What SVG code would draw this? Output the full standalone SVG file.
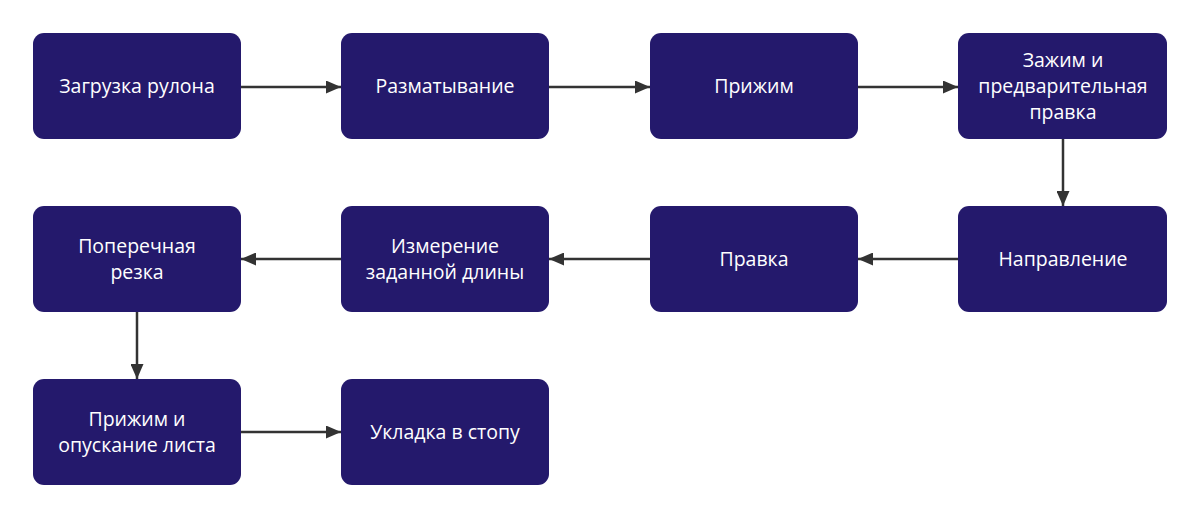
<svg xmlns="http://www.w3.org/2000/svg" width="1200" height="516" viewBox="0 0 1200 516">
<defs>
<style>
.n{fill:#24196c;}
.t{fill:#ffffff;font-family:"Open Sans","Noto Sans","DejaVu Sans",sans-serif;font-size:19.5px;text-anchor:middle;}
.c{stroke:#333333;stroke-width:2.5;fill:none;}
</style>
<marker id="ah" viewBox="0 0 15 13" refX="15" refY="6.5" markerWidth="15" markerHeight="13" markerUnits="userSpaceOnUse" orient="auto">
<path d="M0,0 L15,6.5 L0,13 Z" fill="#333333"/>
</marker>
</defs>
<rect width="1200" height="516" fill="#ffffff"/>
<g id="connectors">
<line class="c" x1="241" y1="87" x2="341" y2="87" marker-end="url(#ah)"/>
<line class="c" x1="549" y1="87" x2="650" y2="87" marker-end="url(#ah)"/>
<line class="c" x1="858" y1="87" x2="958" y2="87" marker-end="url(#ah)"/>
<line class="c" x1="1063" y1="139" x2="1063" y2="206" marker-end="url(#ah)"/>
<line class="c" x1="958" y1="259" x2="858" y2="259" marker-end="url(#ah)"/>
<line class="c" x1="650" y1="259" x2="549" y2="259" marker-end="url(#ah)"/>
<line class="c" x1="341" y1="259" x2="241" y2="259" marker-end="url(#ah)"/>
<line class="c" x1="137" y1="312" x2="137" y2="379" marker-end="url(#ah)"/>
<line class="c" x1="241" y1="432" x2="341" y2="432" marker-end="url(#ah)"/>
</g>
<g id="n1"><rect class="n" x="33" y="33" width="208" height="106" rx="11"/><text class="t" x="137" y="93">Загрузка рулона</text></g>
<g id="n2"><rect class="n" x="341" y="33" width="208" height="106" rx="11"/><text class="t" x="445" y="93">Разматывание</text></g>
<g id="n3"><rect class="n" x="650" y="33" width="208" height="106" rx="11"/><text class="t" x="754" y="93">Прижим</text></g>
<g id="n4"><rect class="n" x="958" y="33" width="209" height="106" rx="11"/><text class="t" x="1063" y="67">Зажим и</text><text class="t" x="1063" y="93">предварительная</text><text class="t" x="1063" y="119">правка</text></g>
<g id="n5"><rect class="n" x="958" y="206" width="209" height="106" rx="11"/><text class="t" x="1063" y="266">Направление</text></g>
<g id="n6"><rect class="n" x="650" y="206" width="208" height="106" rx="11"/><text class="t" x="754" y="266">Правка</text></g>
<g id="n7"><rect class="n" x="341" y="206" width="208" height="106" rx="11"/><text class="t" x="445" y="253">Измерение</text><text class="t" x="445" y="279">заданной длины</text></g>
<g id="n8"><rect class="n" x="33" y="206" width="208" height="106" rx="11"/><text class="t" x="137" y="253">Поперечная</text><text class="t" x="137" y="279">резка</text></g>
<g id="n9"><rect class="n" x="33" y="379" width="208" height="106" rx="11"/><text class="t" x="137" y="426">Прижим и</text><text class="t" x="137" y="452">опускание листа</text></g>
<g id="n10"><rect class="n" x="341" y="379" width="208" height="106" rx="11"/><text class="t" x="445" y="439">Укладка в стопу</text></g>
</svg>
